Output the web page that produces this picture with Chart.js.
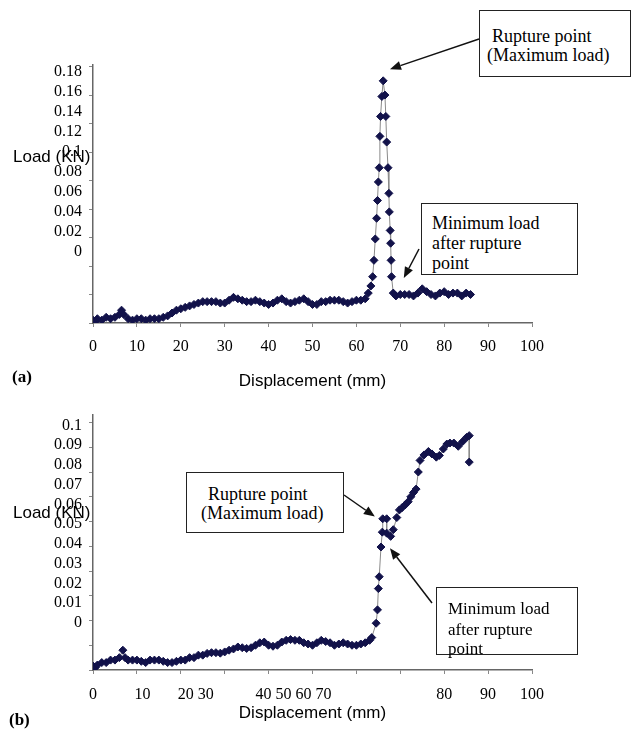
<!DOCTYPE html>
<html><head><meta charset="utf-8">
<script src="https://cdn.jsdelivr.net/npm/chart.js@4"></script>
<style>
html,body{margin:0;padding:0;background:#fff;}
#wrap{position:relative;width:632px;height:729px;overflow:hidden;background:#fff;}
canvas{position:absolute;left:0;}
#ca{top:0}
#cb{top:400px}
.t{position:absolute;white-space:nowrap;line-height:20px;color:#000;}
.serif{font-family:"Liberation Serif","Times New Roman",serif;font-size:18px;}
.sans{font-family:"Liberation Sans",Arial,sans-serif;font-size:17px;}
.bold{font-family:"Liberation Serif","Times New Roman",serif;font-size:17px;font-weight:bold;}
.box{position:absolute;border:1.5px solid #222;background:#fff;box-sizing:border-box;}
</style></head>
<body><div id="wrap">
<canvas id="ca" width="632" height="400"></canvas>
<canvas id="cb" width="632" height="329"></canvas>

<div class="box" style="left:479px;top:10px;width:152px;height:67px"></div>
<div class="t serif" style="left:492px;top:26px">Rupture point</div>
<div class="t serif" style="left:487px;top:45px">(Maximum load)</div>

<div class="box" style="left:421px;top:203px;width:157px;height:72px"></div>
<div class="t serif" style="left:432px;top:213px">Minimum load</div>
<div class="t serif" style="left:432px;top:233px">after rupture</div>
<div class="t serif" style="left:432px;top:253px">point</div>

<div class="box" style="left:186px;top:472px;width:158px;height:61px"></div>
<div class="t serif" style="left:208px;top:484px">Rupture point</div>
<div class="t serif" style="left:201px;top:503px">(Maximum load)</div>

<div class="box" style="left:436px;top:587px;width:142px;height:68px"></div>
<div class="t serif" style="left:448px;top:599px;font-size:17px">Minimum load</div>
<div class="t serif" style="left:448px;top:620px;font-size:17px">after rupture</div>
<div class="t serif" style="left:448px;top:639px;font-size:17px">point</div>

<div class="t sans" style="left:13px;top:147px">Load (KN)</div>
<div class="t sans" style="left:13px;top:503px">Load (KN)</div>
<div class="t bold" style="left:12px;top:367px">(a)</div>
<div class="t bold" style="left:9px;top:710px">(b)</div>
</div>
<script>
// ---- Panel (a) data: displacement (mm) and load (kN) ----
const dispA = [0,0.5,1,2,3,4,5,6,6.5,7,8,9,10,11,12,13,14,15,16,17,18,19,20,
  21,22,23,24,25,26,27,28,29,30,31,32,33,34,35,36,37,38,39,40,
  41,42,43,44,45,46,47,48,49,50,51,52,53,54,55,56,57,58,59,60,61,62,
  62.7,63.3,63.7,64.0,64.3,64.6,64.8,65.0,65.2,65.35,65.5,65.8,66.1,
  66.5,66.7,66.9,67.2,67.4,67.5,67.7,67.8,67.9,68.0,68.4,
  69,70,71,72,73,74,75,76,77,78,79,80,81,82,83,84,85,86];
const loadA = [0.002,0.001,0.003,0.002,0.004,0.003,0.004,0.006,0.009,0.006,0.003,0.002,0.003,0.003,0.002,0.003,0.003,0.003,0.004,0.005,0.007,0.009,0.010,
  0.011,0.012,0.013,0.014,0.015,0.015,0.015,0.015,0.014,0.014,0.016,0.018,0.017,0.016,0.015,0.015,0.016,0.015,0.014,0.013,
  0.014,0.016,0.017,0.015,0.014,0.015,0.016,0.017,0.015,0.013,0.013,0.015,0.015,0.016,0.016,0.016,0.015,0.014,0.015,0.016,0.016,0.017,
  0.021,0.026,0.0325,0.044,0.059,0.0735,0.086,0.099,0.109,0.131,0.145,0.159,0.170,
  0.160,0.145,0.127,0.109,0.091,0.078,0.065,0.056,0.044,0.0325,0.021,
  0.019,0.020,0.020,0.020,0.019,0.021,0.024,0.022,0.020,0.019,0.021,0.022,0.020,0.021,0.021,0.019,0.021,0.020];

// ---- Panel (b) data ----
const dispB = [0,0.5,1,2,3,4,5,6,6.8,7.3,8,9,10,11,12,13,14,15,16,17,18,19,20,
  21,22,23,24,25,26,27,28,29,30,31,32,33,34,35,36,37,38,39,40,
  41,42,43,44,45,46,47,48,49,50,51,52,53,54,55,56,57,58,59,60,61,62,63,63.5,
  64.5,64.8,65.0,65.2,65.6,65.9,66.0,66.9,66.9,67.8,68.4,
  69.2,69.8,70.4,71.1,71.8,72.4,73.0,73.6,74.1,74.5,75.4,76.4,77.2,78.2,78.9,
  79.8,80.6,81.3,82.2,83.2,84.2,85.1,85.7,85.7];
const loadB = [0.0016,0.001,0.002,0.003,0.003,0.004,0.004,0.005,0.008,0.005,0.004,0.004,0.004,0.0035,0.003,0.004,0.004,0.004,0.0035,0.003,0.003,0.0035,0.004,
  0.004,0.005,0.005,0.006,0.006,0.0067,0.007,0.007,0.0068,0.0073,0.008,0.0085,0.0093,0.009,0.0087,0.009,0.010,0.011,0.0113,0.010,
  0.0096,0.010,0.0113,0.012,0.0123,0.012,0.012,0.011,0.0105,0.010,0.011,0.012,0.0115,0.011,0.010,0.0105,0.011,0.0105,0.010,0.010,0.0105,0.011,0.012,0.0131,
  0.0189,0.0243,0.0329,0.0377,0.0497,0.0557,0.0611,0.0611,0.0553,0.054,0.0567,
  0.0616,0.0647,0.0656,0.0667,0.068,0.070,0.0717,0.0731,0.080,0.0847,0.0869,0.0883,0.0873,0.086,0.0867,
  0.0893,0.0913,0.0917,0.0917,0.0904,0.0923,0.094,0.0947,0.084];

// ---- tick labels ----
const xTickLabelsB = ['0','10','20 30','40 50 60 70','80','90','100'];
const xTickPosB = [0,11.3,23.4,45.7,80,90,100];

const SERIF = '"Liberation Serif","Times New Roman",serif';
const SANS = '"Liberation Sans",Arial,sans-serif';

function arrowPlugin(list){
  return {id:'arrows', afterDraw(chart){
    const ctx = chart.ctx, xs = chart.scales.x, ys = chart.scales.y;
    ctx.save();
    ctx.strokeStyle = '#111'; ctx.fillStyle = '#111'; ctx.lineWidth = 1.5;
    list.forEach(a => {
      const x0 = a.tail[0], y0 = a.tail[1];
      const x1 = xs.getPixelForValue(a.tipX), y1 = ys.getPixelForValue(a.tipY);
      const ang = Math.atan2(y1 - y0, x1 - x0), L = 11, W = 4.5;
      const bx = x1 - L * Math.cos(ang), by = y1 - L * Math.sin(ang);
      ctx.beginPath(); ctx.moveTo(x0, y0); ctx.lineTo(bx, by); ctx.stroke();
      ctx.beginPath(); ctx.moveTo(x1, y1);
      ctx.lineTo(bx + W * Math.sin(ang), by - W * Math.cos(ang));
      ctx.lineTo(bx - W * Math.sin(ang), by + W * Math.cos(ang));
      ctx.closePath(); ctx.fill();
    });
    ctx.restore();
  }};
}

function dataset(xs, ys){
  return {
    data: xs.map((x, i) => ({x: x, y: ys[i]})),
    showLine: true,
    borderColor: '#8a8a8a', borderWidth: 1,
    pointStyle: 'rectRot', pointRadius: 4,
    pointBackgroundColor: '#12124a', pointBorderColor: '#12124a', pointBorderWidth: 1,
    xAxisID: 'x', yAxisID: 'y'
  };
}

const yLabelCb = v => (v < -1e-9 ? '' : String(Math.round(v * 100) / 100));
const axisBorder = {display: true, color: '#666', width: 1.5};
const tickGrid = {drawOnChartArea: false, drawTicks: true, tickLength: 4, color: '#888'};

// Panel (a)
new Chart(document.getElementById('ca'), {
  type: 'scatter',
  data: {datasets: [dataset(dispA, loadA)]},
  options: {
    responsive: false, animation: false,
    layout: {padding: {top: 65, right: 100, left: 0, bottom: 0}},
    plugins: {legend: {display: false}, tooltip: {enabled: false}},
    scales: {
      x: {type: 'linear', position: 'bottom', min: 0, max: 100,
        ticks: {stepSize: 10, font: {family: SERIF, size: 16}, color: '#000', padding: 10, maxRotation: 0, autoSkip: false},
        grid: tickGrid, border: axisBorder,
        title: {display: true, text: 'Displacement (mm)', font: {family: SANS, size: 17}, color: '#000', padding: {top: 0, bottom: 8}},
        afterFit: s => { s.height = 77; }},
      y: {type: 'linear', position: 'left', weight: 0, min: 0, max: 0.1811,
        ticks: {display: false, stepSize: 0.02, includeBounds: false},
        grid: tickGrid, border: axisBorder,
        afterFit: s => { s.width = 6; }},
      yl: {type: 'linear', position: 'left', weight: 1, min: -0.0707, max: 0.1866,
        ticks: {stepSize: 0.02, includeBounds: false, autoSkip: false, padding: 5,
          font: {family: SERIF, size: 16}, color: '#000', callback: yLabelCb},
        grid: {display: false, drawTicks: false}, border: {display: false},
        afterFit: s => { s.width = 87; }}
    }
  },
  plugins: [arrowPlugin([
    {tail: [479, 39], tipX: 67.65, tipY: 0.1782},
    {tail: [419, 249], tipX: 70.8, tipY: 0.0316}
  ])]
});

// Panel (b)
new Chart(document.getElementById('cb'), {
  type: 'scatter',
  data: {datasets: [dataset(dispB, loadB)]},
  options: {
    responsive: false, animation: false,
    layout: {padding: {top: 12, right: 100, left: 0, bottom: 0}},
    plugins: {legend: {display: false}, tooltip: {enabled: false}},
    scales: {
      x: {type: 'linear', position: 'bottom', weight: 0, min: 0, max: 100,
        ticks: {display: false, stepSize: 10},
        grid: tickGrid, border: axisBorder,
        afterFit: s => { s.height = 5; }},
      xl: {type: 'linear', position: 'bottom', weight: 1, min: 0, max: 100,
        afterBuildTicks: s => { s.ticks = xTickPosB.map(v => ({value: v})); },
        ticks: {autoSkip: false, maxRotation: 0, padding: 10.4, font: {family: SERIF, size: 16}, color: '#000',
          callback: (v, i) => xTickLabelsB[i]},
        grid: {display: false, drawTicks: false}, border: {display: false},
        title: {display: true, text: 'Displacement (mm)', font: {family: SANS, size: 17}, color: '#000', padding: {top: 0, bottom: 5}},
        afterFit: s => { s.height = 54; }},
      y: {type: 'linear', position: 'left', weight: 0, min: 0, max: 0.1032,
        ticks: {display: false, stepSize: 0.01, includeBounds: false},
        grid: tickGrid, border: axisBorder,
        afterFit: s => { s.width = 6; }},
      yl: {type: 'linear', position: 'left', weight: 1, min: -0.0238, max: 0.1055,
        ticks: {stepSize: 0.01, includeBounds: false, autoSkip: false, padding: 5,
          font: {family: SERIF, size: 16}, color: '#000', callback: yLabelCb},
        grid: {display: false, drawTicks: false}, border: {display: false},
        afterFit: s => { s.width = 87; }}
    }
  },
  plugins: [arrowPlugin([
    {tail: [344, 95], tipX: 64.2, tipY: 0.062},
    {tail: [432, 203], tipX: 67.65, tipY: 0.0492}
  ])]
});
</script>
</body></html>
